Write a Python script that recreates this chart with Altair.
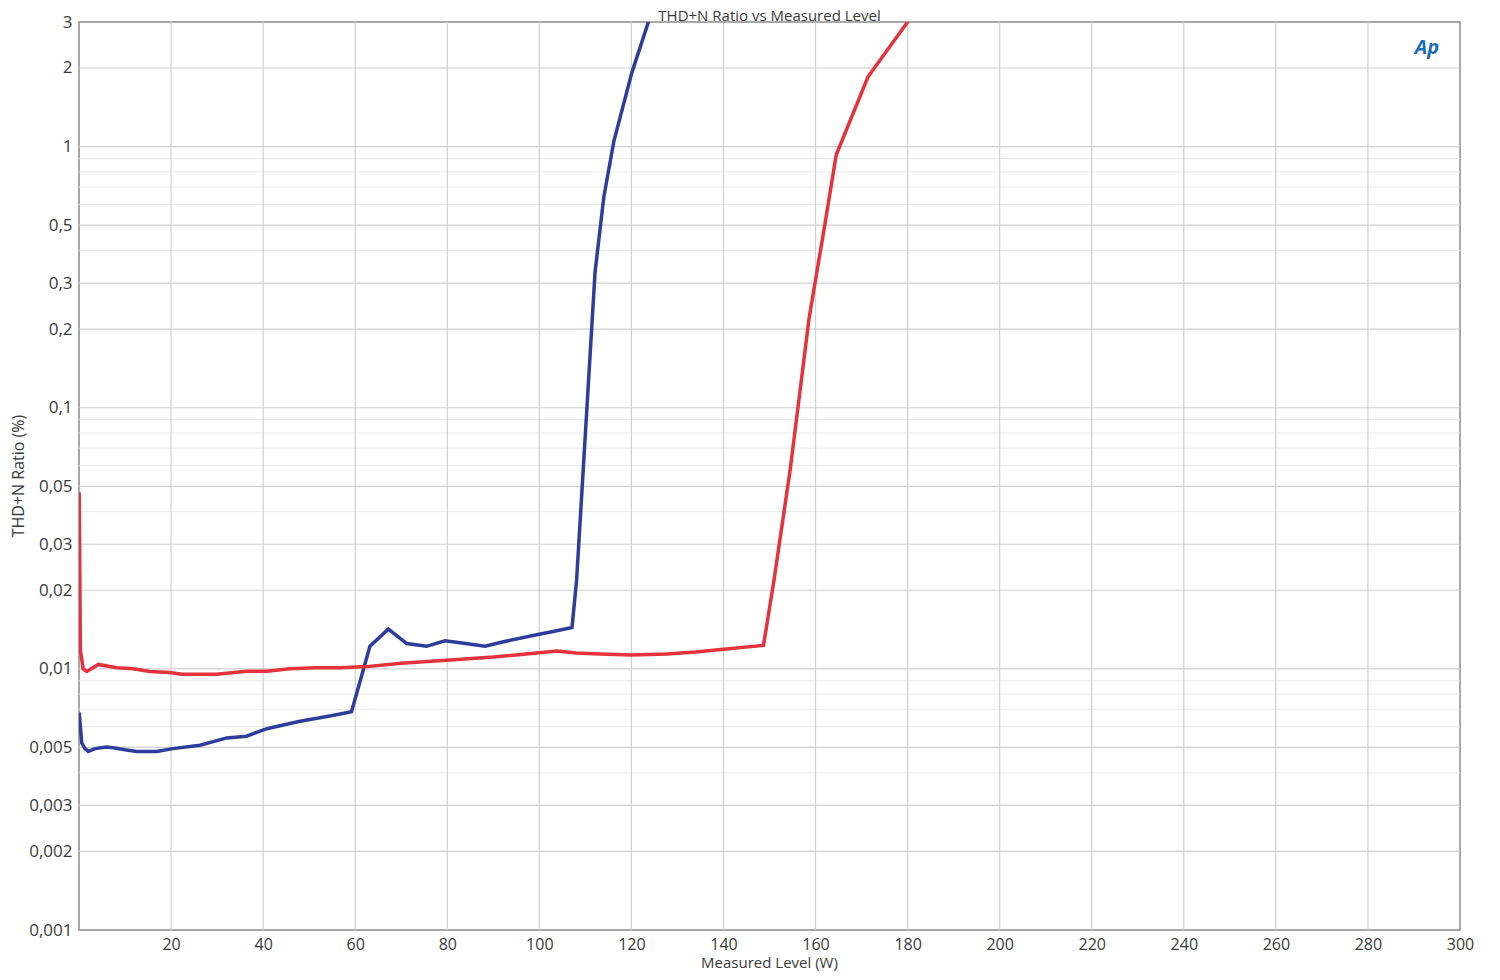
import altair as alt
import pandas as pd

# ---- data ----
blue_x = [0.05, 0.6, 1.3, 2.0, 3.5, 6.0, 7.8, 10.0, 12.5, 16.9, 20.4, 26.3, 32.1, 36.4,
          40.8, 48.0, 54.5, 59.2, 63.2, 67.2, 71.2, 75.5, 79.5, 84.0, 88.2, 92.2, 99.4,
          103.0, 107.1, 108.1, 112.1, 114.0, 116.2, 120.1, 123.7, 127.0]
blue_y = [0.0068, 0.0052, 0.00495, 0.00483, 0.00495, 0.00502, 0.00498, 0.0049, 0.00483,
          0.00483, 0.00495, 0.0051, 0.00544, 0.00552, 0.0059, 0.0063, 0.0066, 0.00685,
          0.0122, 0.0142, 0.0125, 0.0122, 0.0128, 0.0125, 0.0122, 0.0127, 0.0135,
          0.0139, 0.0144, 0.0219, 0.33, 0.64, 1.05, 1.92, 3.0, 4.5]

red_x = [0.05, 0.3, 0.9, 1.7, 4.2, 8.2, 11.8, 15.4, 19.8, 22.3, 29.9, 36.4, 40.8, 45.8,
         51.3, 56.7, 62.5, 70.0, 79.9, 90.0, 99.4, 103.8, 108.0, 113.2, 120.0, 127.7,
         134.0, 140.0, 148.7, 151.0, 154.5, 158.6, 162.0, 164.5, 171.4, 180.0, 184.0]
red_y = [0.0475, 0.0118, 0.0100, 0.00978, 0.0104, 0.0101, 0.0100, 0.00977, 0.00969,
         0.00954, 0.00954, 0.0098, 0.0098, 0.0100, 0.0101, 0.0101, 0.0102, 0.0105,
         0.0108, 0.0111, 0.0115, 0.0117, 0.0115, 0.0114, 0.0113, 0.0114, 0.0116,
         0.0119, 0.0123, 0.022, 0.058, 0.22, 0.5, 0.93, 1.85, 3.0, 3.7]

y_major = [0.002, 0.003, 0.005, 0.01, 0.02, 0.03, 0.05, 0.1, 0.2, 0.3, 0.5, 1, 2]
y_minor = [0.004, 0.006, 0.007, 0.008, 0.009, 0.04, 0.06, 0.07, 0.08, 0.09,
           0.4, 0.6, 0.7, 0.8, 0.9]
y_labels = [0.001, 0.002, 0.003, 0.005, 0.01, 0.02, 0.03, 0.05, 0.1, 0.2, 0.3, 0.5, 1, 2, 3]
x_grid = [20, 40, 60, 80, 100, 120, 140, 160, 180, 200, 220, 240, 260, 280]
x_labels = [20, 40, 60, 80, 100, 120, 140, 160, 180, 200, 220, 240, 260, 280, 300]

title_text = "THD+N Ratio vs Measured Level"
x_title = "Measured Level (W)"
y_title = "THD+N Ratio (%)"

W, H = 1381, 908
FONT = "Open Sans"
TXT = "#3a3a3a"

xs = alt.Scale(domain=[0, 300], nice=False, zero=False)
ys = alt.Scale(type="log", domain=[0.001, 3], nice=False)

curves = pd.concat([
    pd.DataFrame({"x": blue_x, "y": blue_y, "s": "blue"}),
    pd.DataFrame({"x": red_x, "y": red_y, "s": "red"}),
])

minor = alt.Chart(pd.DataFrame({"v": y_minor})).mark_rule(
    color="#e9e9e9", strokeWidth=1
).encode(y=alt.Y("v:Q", scale=ys))

major = alt.Chart(pd.DataFrame({"v": y_major})).mark_rule(
    color="#d0d0d0", strokeWidth=1.2
).encode(y=alt.Y("v:Q", scale=ys))

vgrid = alt.Chart(pd.DataFrame({"v": x_grid})).mark_rule(
    color="#d0d0d0", strokeWidth=1.2
).encode(x=alt.X("v:Q", scale=xs))

lines = alt.Chart(curves).mark_line(strokeWidth=3.5, clip=True, interpolate="linear").encode(
    x=alt.X("x:Q", scale=xs,
            axis=alt.Axis(values=x_labels, title=None, grid=False, ticks=False, domain=False,
                          labelFont=FONT, labelFontSize=16, labelColor=TXT, labelPadding=6,
                          labelFlush=False)),
    y=alt.Y("y:Q", scale=ys,
            axis=alt.Axis(values=y_labels, title=None, grid=False, ticks=False, domain=False,
                          labelFont=FONT, labelFontSize=17, labelColor=TXT, labelPadding=7,
                          labelFlush=False,
                          labelExpr="replace(format(datum.value, '~g'), '.', ',')")),
    color=alt.Color("s:N", scale=alt.Scale(domain=["blue", "red"], range=["#2d3d9c", "#e6323a"]),
                    legend=None),
    detail="s:N",
)

def label(text, x, y, size=15, angle=0, color=TXT, style="normal", weight="normal"):
    return alt.Chart(pd.DataFrame({"t": [text]})).mark_text(
        font=FONT, fontSize=size, color=color, angle=angle, align="center",
        baseline="middle", fontStyle=style, fontWeight=weight
    ).encode(text="t:N", x=alt.value(x), y=alt.value(y))

chart = alt.layer(
    minor, major, vgrid, lines,
    label(title_text, W / 2, -6, size=15),
    label(x_title, W / 2, H + 33, size=15),
    label(y_title, -60, H / 2, size=16, angle=270),
    label("Ap", 1348, 26, size=20, color="#1c6bb3", style="italic", weight="bold"),
).properties(
    width=W, height=H,
    padding={"left": 71, "top": 14, "right": 32, "bottom": 42},
    autosize=alt.AutoSizeParams(type="none"),
).configure_view(
    stroke="#8c8c8c", strokeWidth=1.5
)

chart.save("out.html", embed_options={"renderer": "svg", "actions": False})
